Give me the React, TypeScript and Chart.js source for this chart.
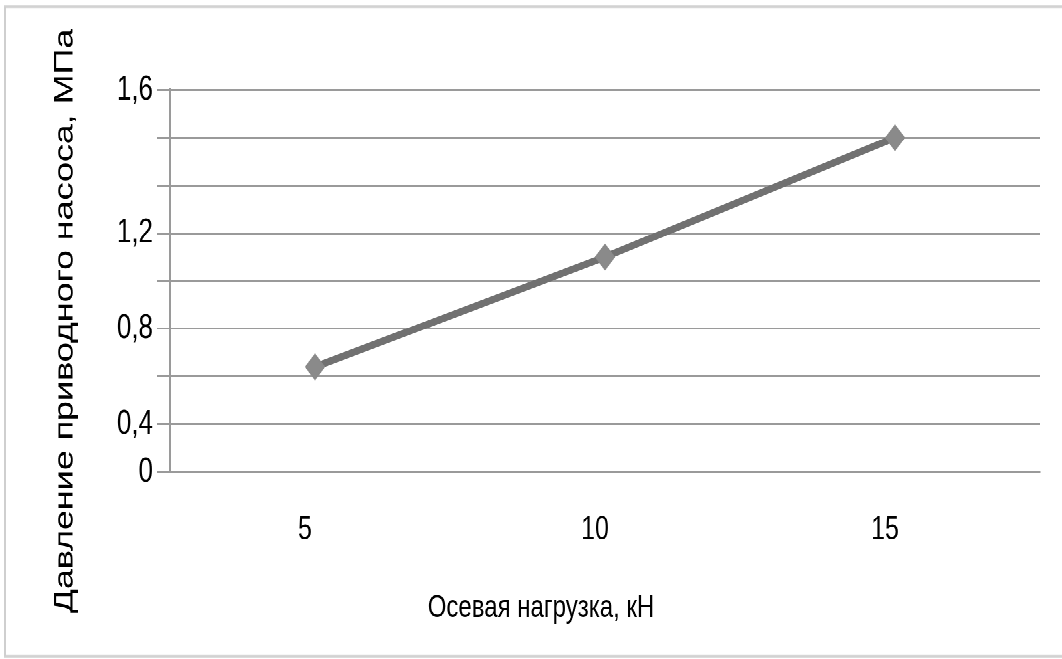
import { useEffect, useRef } from "react";
import { Chart, registerables } from "chart.js";

Chart.register(...registerables);

// ---- data ----
const categories = ["5", "10", "15"];
// values in the chart's gridline units (gridlines every 0.2 from 0 to 1.6)
const pressure = [0.44, 0.9, 1.4];
// labels printed next to each gridline, from 0 upward (as in the original figure)
const yTickLabels = ["0", "0,4", "", "0,8", "", "1,2", "", "", "1,6"];
const xAxisTitle = "Осевая нагрузка, кН";
const yAxisTitle = "Давление приводного насоса, МПа";

// ---- layout ----
const W = 1062;
const H = 496;
const S = 659 / H; // the original figure is stretched vertically
const FONT = "'Liberation Sans', Arial, Helvetica, sans-serif";
const GRID = "#9a9a9a";

export default function App() {
  const ref = useRef<HTMLCanvasElement>(null);

  useEffect(() => {
    document.body.style.margin = "0";
    document.body.style.overflow = "hidden";
    const canvas = ref.current;
    if (!canvas) return;

    const axisTitles = {
      id: "axisTitles",
      afterDraw(chart: any) {
        const ctx = chart.ctx as CanvasRenderingContext2D;
        ctx.save();
        ctx.fillStyle = "#000";
        ctx.textAlign = "center";
        ctx.textBaseline = "middle";
        ctx.font = `24px ${FONT}`;
        ctx.fillText(xAxisTitle, 541, 458);
        ctx.translate(65, 241.6);
        ctx.rotate(-Math.PI / 2);
        ctx.font = `27px ${FONT}`;
        ctx.fillText(yAxisTitle, 0, 0);
        ctx.restore();
      },
    };

    const chart = new Chart(canvas, {
      type: "line",
      data: {
        labels: categories,
        datasets: [
          {
            data: pressure,
            borderColor: "#717171",
            borderWidth: 5.5,
            tension: 0,
            pointStyle: "rectRot",
            pointRadius: 9.5,
            pointBackgroundColor: "#8a8a8a",
            pointBorderColor: "#8a8a8a",
            pointBorderWidth: 1,
          },
        ],
      },
      options: {
        animation: false,
        responsive: false,
        devicePixelRatio: 2,
        layout: { padding: { top: 90 / S, right: 22, left: 0, bottom: 0 } },
        plugins: {
          legend: { display: false },
          tooltip: { enabled: false },
          title: { display: false },
        },
        scales: {
          x: {
            type: "category",
            offset: true,
            grid: { display: false, drawTicks: false },
            border: { display: true, color: GRID, width: 1.5 },
            ticks: {
              color: "#000",
              font: { family: FONT, size: 25 },
              padding: 29,
              labelOffset: -10,
              maxRotation: 0,
              autoSkip: false,
            },
            afterFit: (s: any) => {
              s.height = H - 472 / S;
            },
          },
          y: {
            type: "linear",
            min: 0,
            max: 1.6,
            ticks: {
              stepSize: 0.2,
              color: "#000",
              font: { family: FONT, size: 26 },
              padding: 4,
              autoSkip: false,
              callback: (v: any) => yTickLabels[Math.round(Number(v) / 0.2)] ?? "",
            },
            grid: { color: GRID, lineWidth: 1.5, tickLength: 13, drawTicks: true },
            border: { display: true, color: GRID, width: 2 },
            afterFit: (s: any) => {
              s.width = 170;
            },
          },
        },
      },
      plugins: [axisTitles],
    });

    return () => chart.destroy();
  }, []);

  return (
    <div
      style={{
        position: "absolute",
        left: 0,
        top: 0,
        width: W,
        height: H,
        overflow: "hidden",
        background: "#fff",
        transform: `scaleY(${S})`,
        transformOrigin: "0 0",
      }}
    >
      <div
        style={{
          position: "absolute",
          left: 4,
          top: 4,
          width: 1200,
          height: 491,
          border: "2px solid #cfcfcf",
          boxSizing: "border-box",
        }}
      />
      <canvas
        ref={ref}
        width={W}
        height={H}
        style={{ position: "absolute", left: 0, top: 0, display: "block" }}
      />
    </div>
  );
}
